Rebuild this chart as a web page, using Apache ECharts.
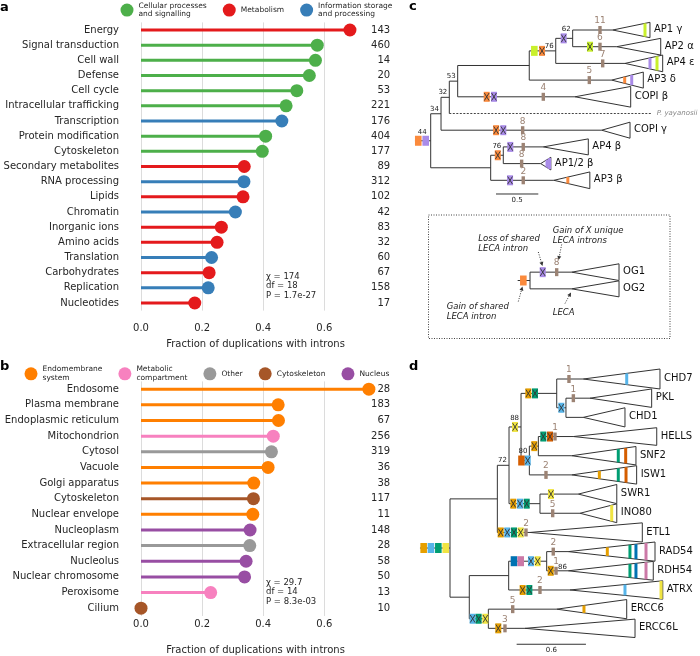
<!DOCTYPE html>
<html><head><meta charset="utf-8">
<script src="https://cdn.jsdelivr.net/npm/echarts@6/dist/echarts.min.js"></script>
<style>html,body{margin:0;padding:0;background:#fff}#c{width:700px;height:656px}</style>
</head><body><div id="c"></div>
<script>
// ---------------- DATA: panel a ----------------
const catA = ['Energy','Signal transduction','Cell wall','Defense','Cell cycle','Intracellular trafficking','Transcription','Protein modification','Cytoskeleton','Secondary metabolites','RNA processing','Lipids','Chromatin','Inorganic ions','Amino acids','Translation','Carbohydrates','Replication','Nucleotides'];
const fracA = [0.684,0.577,0.571,0.551,0.510,0.475,0.461,0.408,0.397,0.338,0.337,0.334,0.309,0.263,0.249,0.231,0.223,0.220,0.176];
const groupA = [1,0,0,0,0,0,2,0,0,1,2,1,2,1,1,2,1,2,1];
const countA = [143,460,14,20,53,221,176,404,177,89,312,102,42,83,32,60,67,158,17];
const groupNamesA = ['Cellular processes\nand signalling','Metabolism','Information storage\nand processing'];
const statsA = ['χ = 174','df = 18','P = 1.7e-27'];
// ---------------- DATA: panel b ----------------
const catB = ['Endosome','Plasma membrane','Endoplasmic reticulum','Mitochondrion','Cytosol','Vacuole','Golgi apparatus','Cytoskeleton','Nuclear envelope','Nucleoplasm','Extracellular region','Nucleolus','Nuclear chromosome','Peroxisome','Cilium'];
const fracB = [0.746,0.449,0.450,0.433,0.427,0.416,0.369,0.368,0.366,0.357,0.356,0.344,0.339,0.228,0.0];
const groupB = [0,0,0,1,2,0,0,3,0,4,2,4,4,1,3];
const countB = [28,183,67,256,319,36,38,117,11,148,28,58,50,13,10];
const groupNamesB = ['Endomembrane\nsystem','Metabolic\ncompartment','Other','Cytoskeleton','Nucleus'];
const statsB = ['χ = 29.7','df = 14','P = 8.3e-03'];
const xTicks = [0, 0.2, 0.4, 0.6];

// ---------------- DATA: panel c tree ----------------
// [id, parent, distance from root, support]
const cNodes = [
 ['c44', null, 0, '44'], ['c34','c44',0.122,'34'], ['c32','c34',0.220,'32'], ['c53','c32',0.319,'53'],
 ['cA','c53',1.165,''], ['c76','cA',1.478,'76'], ['c62','c76',1.678,'62'],
 ['cL','c44',0.709,''], ['c76b','cL',0.858,'76'],
 ['i0', null, 1.174, '']
];
// [leaf, parent, row, clade start, clade end, clade half-height (rows)]
const cLeaves = [
 ['AP1 γ','c62',0,2.151,2.592,0.46], ['AP2 α','c62',1,2.199,2.719,0.5], ['AP4 ε','c76',2,2.297,2.742,0.5],
 ['AP3 δ','cA',3,2.139,2.513,0.48], ['COPI β','c53',4,1.706,2.364,0.62], ['P. yayanosii','c32',5,null,2.612,0],
 ['COPI γ','c34',6,2.021,2.356,0.48], ['AP4 β','c76b',7,1.331,1.863,0.48], ['AP1/2 β','c76b',8,1.300,1.420,0.38],
 ['AP3 β','cL',9,1.456,1.881,0.5], ['OG1','i0',14.5,1.667,2.226,0.5], ['OG2','i0',15.5,1.667,2.226,0.48]
];
const cRoots = [['c44',-0.186],['i0',1.028]];
// [branch, position, event (G gain shared / X loss / N new introns), intron, count]
const cEvents = [
 ['c44',-0.147,'G','o'], ['c44',-0.059,'G','p'],
 ['c62',1.572,'X','p'], ['AP1 γ',2.001,'N','n','11'],
 ['AP2 α',1.883,'X','y'], ['AP2 α',2.001,'N','n','6'], ['AP4 ε',2.033,'N','n','7'],
 ['c76',1.225,'G','y'], ['c76',1.316,'X','o'], ['AP3 δ',1.875,'N','n','5'],
 ['COPI β',0.662,'X','o'], ['COPI β',0.748,'X','p'], ['COPI β',1.331,'N','n','4'],
 ['COPI γ',0.773,'X','o'], ['COPI γ',0.858,'X','p'], ['COPI γ',1.087,'N','n','8'],
 ['c76b',0.793,'X','o'], ['AP4 β',0.941,'X','p'], ['AP4 β',1.094,'N','n','8'],
 ['AP1/2 β',1.075,'N','n','8'], ['AP3 β',0.938,'X','p'], ['AP3 β',1.094,'N','n','2'],
 ['i0',1.095,'G','o'], ['OG1',1.324,'X','p'], ['OG1',1.489,'N','n','8']
];
// [leaf, position, intron] : intron present in part of the clade
const cBars = [
 ['AP1 γ',2.533,'y'], ['AP4 ε',2.592,'p'], ['AP4 ε',2.675,'y'], ['AP3 δ',2.293,'o'], ['AP3 δ',2.376,'p'],
 ['AP1/2 β',1.375,'p'], ['AP1/2 β',1.405,'p'], ['AP3 β',1.621,'o']
];
const cNotes = [];
const cScale = [0.772, 0.5, 9.82];

// ---------------- DATA: panel d tree ----------------
const dNodes = [
 ['d0', null, 0, ''], ['n72','d0',0.410,''], ['n88','n72',0.511,'72'], ['nX','n88',0.615,'88'],
 ['nCT','nX',0.924,''], ['nPC','nCT',1.004,''], ['n80','nX',0.687,'80'], ['nHS','n80',0.765,''],
 ['nSW','n88',0.779,''], ['nLo','d0',0.167,''], ['nR','nLo',0.508,''], ['nRR','nR',0.837,''], ['nE','nLo',0.332,'']
];
const dLeaves = [
 ['CHD7','nCT',0,1.154,1.818,0.52], ['PKL','nPC',1,1.212,1.746,0.48], ['CHD1','nPC',2,1.154,1.515,0.5],
 ['HELLS','nHS',3,1.068,1.790,0.46], ['SNF2','nHS',4,1.054,1.610,0.48], ['ISW1','n80',5,1.054,1.616,0.48],
 ['SWR1','nSW',6,1.111,1.444,0.5], ['INO80','nSW',7,1.126,1.444,0.49], ['ETL1','n72',8,0.693,1.665,0.5],
 ['RAD54','nRR',9,1.024,1.775,0.5], ['RDH54','nRR',10,1.024,1.760,0.49], ['ATRX','nR',11,1.039,1.842,0.48],
 ['ERCC6','nE',12,0.924,1.530,0.5], ['ERCC6L','nE',13,0.649,1.602,0.48]
];
const dRoots = [['d0',-0.26]];
const dEvents = [
 ['d0',-0.228,'G','o'], ['d0',-0.165,'G','b'], ['d0',-0.101,'G','g'], ['d0',-0.037,'G','y'],
 ['nCT',0.678,'X','o'], ['nCT',0.736,'X','g'], ['CHD7',1.030,'N','n','1'], ['nPC',0.964,'X','b'], ['PKL',1.068,'N','n','1'],
 ['nX',0.563,'X','y'], ['n80',0.619,'G','v'], ['n80',0.673,'X','b'], ['nHS',0.730,'X','o'],
 ['HELLS',0.808,'X','g'], ['HELLS',0.866,'X','v'], ['HELLS',0.909,'N','n','1'], ['ISW1',0.831,'N','n','2'],
 ['nSW',0.548,'X','o'], ['nSW',0.606,'X','b'], ['nSW',0.664,'X','g'], ['SWR1',0.874,'X','y'], ['INO80',0.889,'N','n','5'],
 ['ETL1',0.439,'X','o'], ['ETL1',0.496,'X','b'], ['ETL1',0.554,'X','g'], ['ETL1',0.612,'X','y'], ['ETL1',0.658,'N','n','2'],
 ['nRR',0.554,'G','d'], ['nRR',0.612,'G','k'], ['nRR',0.701,'X','b'], ['nRR',0.759,'X','y'],
 ['RAD54',0.894,'N','n','2'], ['RDH54',0.872,'X','o'], ['RDH54',0.918,'N','n','1'],
 ['ATRX',0.629,'X','o'], ['ATRX',0.687,'X','g'], ['ATRX',0.779,'N','n','2'],
 ['nE',0.196,'X','b'], ['nE',0.248,'X','g'], ['nE',0.306,'X','y'],
 ['ERCC6',0.543,'N','n','5'], ['ERCC6L',0.418,'X','o'], ['ERCC6L',0.476,'N','n','3']
];
const dBars = [
 ['CHD7',1.530,'b'], ['SNF2',1.457,'g'], ['SNF2',1.521,'v'], ['ISW1',1.293,'o'], ['ISW1',1.457,'g'], ['ISW1',1.524,'v'],
 ['INO80',1.400,'y'], ['RAD54',1.362,'o'], ['RAD54',1.558,'g'], ['RAD54',1.610,'d'], ['RAD54',1.697,'k'],
 ['RDH54',1.558,'g'], ['RDH54',1.610,'d'], ['RDH54',1.697,'k'], ['ATRX',1.515,'b'], ['ATRX',1.827,'y'], ['ERCC6',1.160,'o']
];
const dNotes = [['RDH54',0.935,'86']];
const dScale = [0.577, 0.6, 13.83];

// ---------------- STYLE / LAYOUT ----------------
const FONT = 'DejaVu Sans';
const TXT = '#262626';
const colA = ['#4daf4a','#e41a1c','#377eb8'];
const colB = ['#ff7f00','#f781bf','#999999','#a65628','#984ea3'];
const BROWN = '#9c8374';
const colC = {o:'#fb8a3c', p:'#a98be8', y:'#c9f02c', n:BROWN};
const colD = {o:'#E69F00', b:'#56B4E9', g:'#009E73', y:'#F0E442', d:'#0072B2', v:'#D55E00', k:'#CC79A7', n:BROWN};
const PX_PER_FRAC = 305.5, AX_MAX = 0.75;
const C = {unit:84.6, root:430.7, row:16.7, row0:30, grid:{left:400, top:0, width:300, height:340}};
const D = {unit:115.5, root:450, row:19.18, row0:379, grid:{left:400, top:345, width:300, height:311}};

function lolli(params, api){
  const v = api.value(0), c = api.value(1);
  const p0 = api.coord([0, c]), p1 = api.coord([v, c]);
  const col = api.visual('color');
  return {type:'group', children:[
    {type:'line', shape:{x1:p0[0],y1:p0[1],x2:p1[0],y2:p1[1]}, style:{stroke:col, lineWidth:3}},
    {type:'circle', shape:{cx:p1[0], cy:p1[1], r:6.5}, style:{fill:col}}
  ]};
}

function buildTree(nodes, leaves, roots, events, bars, notes, scale){
  const info = {};
  nodes.forEach(([id,parent,x,sup])=>{ info[id]={id,parent,x,sup,children:[]}; });
  leaves.forEach(([name,parent,row,apex,end,h])=>{ info[name]={id:name,parent,x:(apex==null?end:apex),row,apex,end,h,leaf:true,dashed:apex==null,children:[]}; });
  Object.values(info).forEach(n=>{ if(n.parent) info[n.parent].children.push(n); });
  const setY = n => { if(n.leaf){ n.y=n.row; return n.y; } const ys=n.children.map(setY); n.y=(Math.min(...ys)+Math.max(...ys))/2; return n.y; };
  roots.forEach(([id])=>setY(info[id]));
  const segs=[], tris=[], marks=[], texts=[];
  roots.forEach(([id,stub])=>{ const r=info[id]; segs.push({t:'seg',x1:stub,y1:r.y,x2:r.x,y2:r.y}); });
  Object.values(info).forEach(n=>{
    if(n.parent) segs.push({t:'seg',x1:info[n.parent].x,y1:n.y,x2:n.x,y2:n.y,dash:n.dashed});
    if(!n.leaf){ const ys=n.children.map(c=>c.y); segs.push({t:'seg',x1:n.x,y1:Math.min(...ys),x2:n.x,y2:Math.max(...ys)}); }
    if(n.leaf && !n.dashed) tris.push({t:'tri',x:n.apex,apex:n.apex,end:n.end,y:n.y,h:n.h});
    if(n.leaf) texts.push({t:'leaf',x:n.end,y:n.y,text:n.id,dashed:n.dashed});
    if(n.sup){
      const near = events.some(e=>e[0]===n.id && n.x - e[1] < 0.12);
      texts.push({t:'sup',x:n.x,y:n.y,text:n.sup,root:!n.parent,raise:near});
    }
  });
  bars.forEach(([leaf,x,key])=>{ const n=info[leaf]; const f=(x-n.apex)/(n.end-n.apex); marks.push({t:'bar',x,y:n.y,h:n.h*f,key}); });
  events.forEach(([br,x,kind,key,label])=>marks.push({t:'ev',x,y:info[br].y,kind,key,label}));
  notes.forEach(([br,x,text])=>texts.push({t:'note',x,y:info[br].y,text}));
  texts.push({t:'scale',x:scale[0],x2:scale[0]+scale[1],y:scale[2],text:String(scale[1])});
  return segs.concat(tris, marks, texts);
}

function treeRenderer(prims, colors){
  return function(params, api){
    const p = prims[params.dataIndex];
    const P = (x,y)=>api.coord([x,y]);
    const txt = (x,y,text,o)=>({type:'text', x, y, style:Object.assign({text, fill:TXT, fontFamily:FONT, fontSize:10}, o)});
    if(p.t==='seg'){
      const a=P(p.x1,p.y1), b=P(p.x2,p.y2);
      return {type:'line', shape:{x1:a[0],y1:a[1],x2:b[0],y2:b[1]}, style:{stroke:p.dash?'#444':'#333', lineWidth:1, lineDash:p.dash?[2,1.5]:null}};
    }
    if(p.t==='tri'){
      const a=P(p.apex,p.y), b=P(p.end,p.y-p.h), c=P(p.end,p.y+p.h);
      return {type:'polygon', shape:{points:[a,b,c]}, style:{fill:'#fff', stroke:'#333', lineWidth:1}};
    }
    if(p.t==='bar'){
      const a=P(p.x,p.y-p.h), b=P(p.x,p.y+p.h);
      return {type:'rect', shape:{x:a[0]-1.5, y:a[1], width:3, height:b[1]-a[1]}, style:{fill:colors[p.key]}};
    }
    if(p.t==='ev'){
      const a=P(p.x,p.y), col=colors[p.key];
      if(p.kind==='N'){
        return {type:'group', children:[
          {type:'rect', shape:{x:a[0]-1.7, y:a[1]-4, width:3.4, height:8}, style:{fill:col}},
          txt(a[0], a[1]-4.5, p.label, {fill:col, fontSize:9, align:'center', verticalAlign:'bottom'})
        ]};
      }
      if(p.kind==='G'){
        return {type:'rect', shape:{x:a[0]-3.3, y:a[1]-5, width:6.6, height:10}, style:{fill:col}};
      }
      return {type:'group', children:[
        {type:'rect', shape:{x:a[0]-3, y:a[1]-5, width:6, height:10}, style:{fill:col}},
        {type:'line', shape:{x1:a[0]-2.4,y1:a[1]-3.8,x2:a[0]+2.4,y2:a[1]+3.8}, style:{stroke:'#333', lineWidth:0.9}},
        {type:'line', shape:{x1:a[0]+2.4,y1:a[1]-3.8,x2:a[0]-2.4,y2:a[1]+3.8}, style:{stroke:'#333', lineWidth:0.9}}
      ]};
    }
    if(p.t==='leaf'){
      const a=P(p.x,p.y);
      if(p.dashed) return txt(a[0]+5, a[1], p.text, {fill:'#888', fontSize:7, fontStyle:'italic', verticalAlign:'middle'});
      return txt(a[0]+4, a[1]-0.5, p.text, {verticalAlign:'middle', fill:'#111'});
    }
    if(p.t==='sup'){
      const a=P(p.x,p.y);
      return txt(a[0]-(p.root?4:2), a[1]-(p.raise?5.5:1.5), p.text, {fontSize:7, align:'right', verticalAlign:'bottom', fill:'#222'});
    }
    if(p.t==='note'){
      const a=P(p.x,p.y);
      return txt(a[0], a[1]-4, p.text, {fontSize:7, align:'left', verticalAlign:'middle', fill:'#222'});
    }
    if(p.t==='scale'){
      const a=P(p.x,p.y), b=P(p.x2,p.y);
      return {type:'group', children:[
        {type:'line', shape:{x1:a[0],y1:a[1],x2:b[0],y2:b[1]}, style:{stroke:'#333', lineWidth:1}},
        txt((a[0]+b[0])/2, a[1]+2.5, p.text, {fontSize:7, align:'center', verticalAlign:'top', fill:'#222'})
      ]};
    }
  };
}

const primsC = buildTree(cNodes, cLeaves, cRoots, cEvents, cBars, cNotes, cScale);
const primsD = buildTree(dNodes, dLeaves, dRoots, dEvents, dBars, dNotes, dScale);
const dataOf = prims => prims.map(p=>[p.x!=null?p.x:p.x1, p.y!=null?p.y:p.y1]);

function lolliX(gi, margin, gap){
  return {gridIndex:gi, type:'value', min:0, max:AX_MAX, interval:0.2,
    axisLine:{show:false}, axisTick:{show:false},
    splitLine:{show:true, showMinLine:true, showMaxLine:false, lineStyle:{color:'#dcdcdc', width:1}},
    axisLabel:{fontFamily:FONT, fontSize:10, color:TXT, margin, showMaxLabel:false,
      formatter:v=> xTicks.some(t=>Math.abs(t-v)<1e-9) ? v.toFixed(1) : ''},
    name:'Fraction of duplications with introns', nameLocation:'middle', nameGap:gap,
    nameTextStyle:{fontFamily:FONT, fontSize:10, color:TXT}};
}
function catY(gi, cats){
  return {gridIndex:gi, type:'category', data:cats, inverse:true, axisLine:{show:false}, axisTick:{show:false},
    splitLine:{show:false}, axisLabel:{fontFamily:FONT, fontSize:10, color:TXT, margin:22}};
}
function countY(gi, counts){
  return {gridIndex:gi, type:'category', data:counts.map(String), inverse:true, position:'right',
    axisLine:{show:false}, axisTick:{show:false}, splitLine:{show:false},
    axisLabel:{fontFamily:FONT, fontSize:10, color:TXT, margin:20, align:'right'}};
}
function treeAxes(T, gi){
  const g=T.grid;
  return [
    {gridIndex:gi, type:'value', show:false, min:(g.left-T.root)/T.unit, max:(g.left+g.width-T.root)/T.unit},
    {gridIndex:gi, type:'value', show:false, inverse:true, min:(g.top-T.row0)/T.row, max:(g.top+g.height-T.row0)/T.row}
  ];
}
const [cxA, cyA] = treeAxes(C, 2);
const [dxA, dyA] = treeAxes(D, 3);

const seriesA = groupNamesA.map((name,g)=>({type:'custom', name, xAxisIndex:0, yAxisIndex:0, itemStyle:{color:colA[g]},
  renderItem:lolli, encode:{x:0,y:1}, data:fracA.map((v,i)=>groupA[i]===g?[v,i]:null).filter(Boolean), z:3}));
const seriesB = groupNamesB.map((name,g)=>({type:'custom', name, xAxisIndex:1, yAxisIndex:2, itemStyle:{color:colB[g]},
  renderItem:lolli, encode:{x:0,y:1}, data:fracB.map((v,i)=>groupB[i]===g?[v,i]:null).filter(Boolean), z:3}));

const legendBase = {icon:'circle', itemWidth:13, itemHeight:13, itemGap:16, padding:0, selectedMode:false,
  textStyle:{fontFamily:FONT, fontSize:7.5, lineHeight:8.6, color:TXT}};

function arrow(x1,y1,x2,y2){
  const ang=Math.atan2(y2-y1,x2-x1), L=4, W=2;
  const bx=x2-L*Math.cos(ang), by=y2-L*Math.sin(ang);
  return [{type:'line', shape:{x1,y1,x2:bx,y2:by}, style:{stroke:'#333', lineWidth:1, lineDash:[1,1.5]}},
    {type:'polygon', shape:{points:[[x2,y2],[bx+W*Math.sin(ang),by-W*Math.cos(ang)],[bx-W*Math.sin(ang),by+W*Math.cos(ang)]]}, style:{fill:'#333'}}];
}
const gtext = (x,y,text,o)=>({type:'text', x, y, style:Object.assign({text, fill:TXT, fontFamily:FONT, fontSize:10}, o)});
const itl = {fontSize:8.5, fontStyle:'italic', lineHeight:10, verticalAlign:'middle', fill:'#222'};

const option = {
  backgroundColor:'#fff', animation:false,
  textStyle:{fontFamily:FONT},
  grid:[
    {left:141, top:22.4, width:AX_MAX*PX_PER_FRAC, height:288.2},
    {left:141, top:381.4, width:AX_MAX*PX_PER_FRAC, height:235.7},
    C.grid, D.grid
  ],
  legend:[
    Object.assign({}, legendBase, {data:groupNamesA, left:120.5, top:1.5}),
    Object.assign({}, legendBase, {data:groupNamesB, left:24.5, top:365.2})
  ],
  xAxis:[lolliX(0,13,29), lolliX(1,3,29), cxA, dxA],
  yAxis:[catY(0,catA), countY(0,countA), catY(1,catB), countY(1,countB), cyA, dyA],
  series: seriesA.concat(seriesB, [
    {type:'custom', name:'treeC', xAxisIndex:2, yAxisIndex:4, silent:true, renderItem:treeRenderer(primsC, colC), encode:{x:0,y:1}, data:dataOf(primsC)},
    {type:'custom', name:'treeD', xAxisIndex:3, yAxisIndex:5, silent:true, renderItem:treeRenderer(primsD, colD), encode:{x:0,y:1}, data:dataOf(primsD)}
  ]),
  graphic:[
    gtext(0, 8, 'a', {fontSize:13, fontWeight:'bold', verticalAlign:'middle', fill:'#000'}),
    gtext(0, 367, 'b', {fontSize:13, fontWeight:'bold', verticalAlign:'middle', fill:'#000'}),
    gtext(409, 7, 'c', {fontSize:13, fontWeight:'bold', verticalAlign:'middle', fill:'#000'}),
    gtext(409, 367, 'd', {fontSize:13, fontWeight:'bold', verticalAlign:'middle', fill:'#000'}),
    gtext(266, 272, statsA.join('\n'), {fontSize:8.5, lineHeight:9.5}),
    gtext(266, 578, statsB.join('\n'), {fontSize:8.5, lineHeight:9.5}),
    {type:'rect', shape:{x:428.5, y:215, width:241.5, height:123.5}, style:{fill:'none', stroke:'#444', lineWidth:1, lineDash:[1,1.5]}},
    gtext(478.3, 244.2, 'Loss of shared\nLECA intron', itl),
    gtext(552.7, 235.5, 'Gain of X unique\nLECA introns', itl),
    gtext(446.7, 312.2, 'Gain of shared\nLECA intron', itl),
    gtext(552.7, 312.7, 'LECA', itl),
    ...arrow(538.3,252,542.5,266),
    ...arrow(561.7,244.5,558.5,260),
    ...arrow(518.3,301.5,522.5,286.5),
    ...arrow(565,303.5,571,292.5)
  ]
};
const chart = echarts.init(document.getElementById('c'), null, {renderer:'canvas', width:700, height:656});
chart.setOption(option);
</script></body></html>
